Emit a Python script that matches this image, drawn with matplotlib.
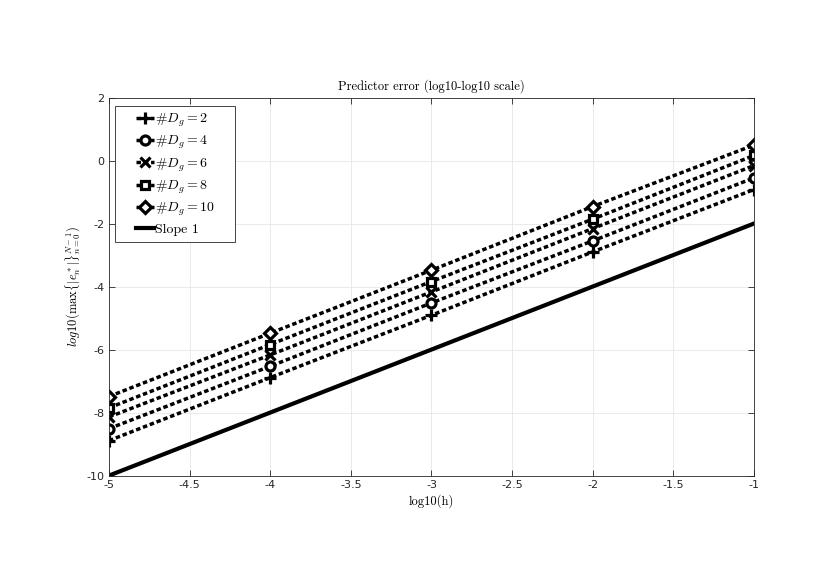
import matplotlib
matplotlib.use('Agg')
import matplotlib.pyplot as plt
from matplotlib.lines import Line2D
from matplotlib.legend_handler import HandlerLine2D

plt.rcParams['mathtext.fontset'] = 'cm'
plt.rcParams['axes.formatter.use_mathtext'] = False

log_h = [-5, -4, -3, -2, -1]
err_d2 = [-8.89, -6.89, -4.91, -2.90, -0.92]
err_d4 = [-8.51, -6.53, -4.52, -2.55, -0.55]
err_d6 = [-8.14, -6.17, -4.17, -2.16, -0.16]
err_d8 = [-7.85, -5.84, -3.84, -1.86, 0.16]
err_d10 = [-7.49, -5.48, -3.48, -1.46, 0.49]
slope_y = [-10, -8, -6, -4, -2]

series = [
    (err_d2, '+', '#$D_g = 2$'),
    (err_d4, 'o', '#$D_g = 4$'),
    (err_d6, 'x', '#$D_g = 6$'),
    (err_d8, 's', '#$D_g = 8$'),
    (err_d10, 'D', '#$D_g = 10$'),
]
msizes = {'+': 9, 'o': 6.5, 'x': 7, 's': 6, 'D': 6}

fig = plt.figure(figsize=(8.3, 5.87), dpi=100)
ax = fig.add_axes([0.1313, 0.1898, 0.7771, 0.6441])

for y, m, lab in series:
    ax.plot(log_h, y, color='black', linewidth=2.5, linestyle=(0, (1.3, 0.8)),
            marker=m, markersize=msizes[m], markerfacecolor='white',
            markeredgecolor='black', markeredgewidth=2.3, label=lab + '    ')

ax.plot(log_h, slope_y, color='black', linewidth=3, label='Slope 1')

ax.set_xlim(-5, -1)
ax.set_ylim(-10, 2)
ax.set_xticks([-5, -4.5, -4, -3.5, -3, -2.5, -2, -1.5, -1])
ax.set_xticklabels(['-5', '-4.5', '-4', '-3.5', '-3', '-2.5', '-2', '-1.5', '-1'])
ax.set_yticks([-10, -8, -6, -4, -2, 0, 2])
ax.set_yticklabels(['-10', '-8', '-6', '-4', '-2', '0', '2'])
ax.tick_params(direction='in', top=True, right=True, length=4, width=0.6,
               labelsize=8, colors='#262626')
ax.grid(True, color='#e6e6e6', linewidth=0.6)
ax.set_axisbelow(True)
for s in ax.spines.values():
    s.set_color('#262626')
    s.set_linewidth(0.6)

serif = ['cmr10', 'DejaVu Serif']
ax.set_title('Predictor error (log10-log10 scale)', fontfamily=serif,
             fontsize=9, pad=6)
ax.set_xlabel('log10(h)', fontfamily=serif, fontsize=9, labelpad=3)
ax.set_ylabel(r'$log10(\max\{|e^*_n|\}_{n=0}^{N-1})$', fontsize=9, labelpad=2)

leg = ax.legend(loc='upper left', bbox_to_anchor=(0.0093, 0.9775),
                borderaxespad=0, handlelength=2.4, handletextpad=0.1,
                labelspacing=0.37, borderpad=0.4, fancybox=False,
                framealpha=1, edgecolor='#262626',
                handler_map={Line2D: HandlerLine2D(xpad=1.1)},
                prop={'family': serif, 'size': 10})
leg.get_frame().set_linewidth(0.6)

fig.savefig('out.png', dpi=100)
